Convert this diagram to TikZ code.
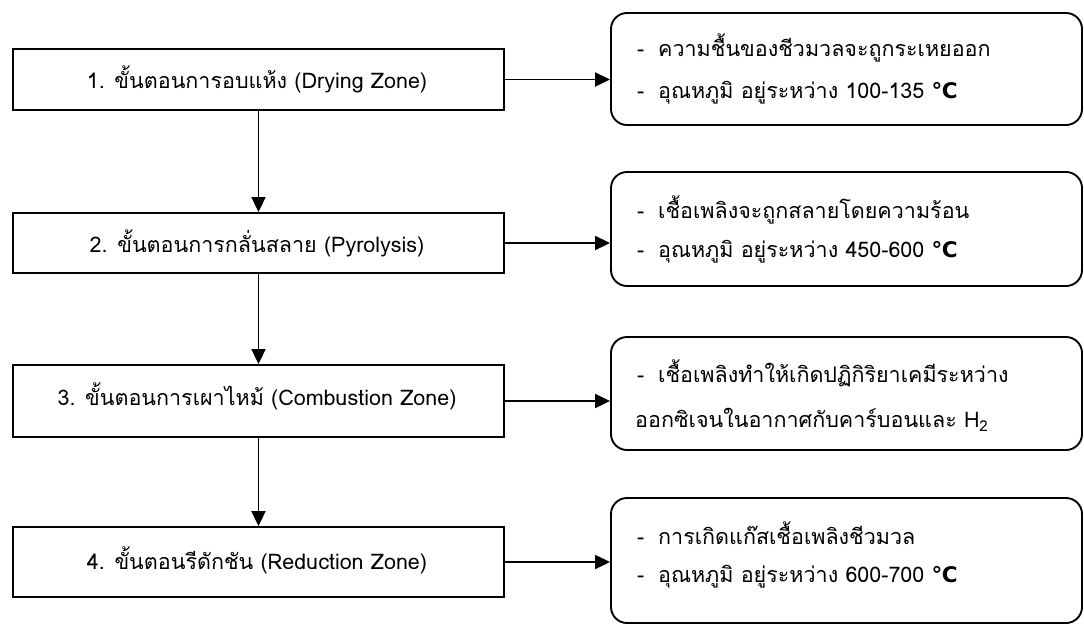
\documentclass[tikz,border=0pt]{standalone}
\usepackage{fontspec}
\setmainfont{Loma}[Script=Thai]
\newfontfamily\symfont{DejaVu Sans}
\usetikzlibrary{arrows.meta}
\begin{document}
\begin{tikzpicture}[x=1pt,y=-1pt,
  stepbox/.style={draw, line width=1.9pt, minimum width=491pt, inner sep=0pt},
  notebox/.style={draw, line width=1.9pt, rounded corners=16pt, minimum width=471pt, inner sep=0pt},
  lbl/.style={font=\fontsize{21.5}{24}\selectfont, inner sep=0pt},
  rlbl/.style={font=\fontsize{21.5}{24}\selectfont, inner sep=0pt, anchor=west},
  arr/.style={line width=1.9pt, -{Triangle[length=15pt,width=14pt]}}]
\useasboundingbox (0,0) rectangle (1084,625);
\fill[white] (0,0) rectangle (1084,625);
% left boxes
\node[stepbox, minimum height=61pt] (b1) at (258.5,79.5) {};
\node[stepbox, minimum height=60pt] (b2) at (258.5,243) {};
\node[stepbox, minimum height=72pt] (b3) at (258.5,401) {};
\node[stepbox, minimum height=70pt] (b4) at (258.5,562) {};
\node[lbl] (t1) at (257,79) {1. ขั้นตอนการอบแห้ง (Drying Zone)};
\node[lbl] (t2) at (257,243) {2. ขั้นตอนการกลั่นสลาย (Pyrolysis)};
\node[lbl] (t3) at (257,396) {3. ขั้นตอนการเผาไหม้ (Combustion Zone)};
\node[lbl] (t4) at (257,560) {4. ขั้นตอนรีดักชัน (Reduction Zone)};
% right boxes
\node[notebox, minimum height=112pt] (r1) at (846.5,69) {};
\node[notebox, minimum height=114pt] (r2) at (846.5,229) {};
\node[notebox, minimum height=113pt] (r3) at (846.5,393.5) {};
\node[notebox, minimum height=125pt] (r4) at (846.5,560.5) {};
\node[rlbl] (r1a) at (637,48) {\makebox[21pt][l]{-}ความชื้นของชีวมวลจะถูกระเหยออก};
\node[rlbl] (r1b) at (637,93) {\makebox[21pt][l]{-}อุณหภูมิ อยู่ระหว่าง 100-135 {\symfont\bfseries ℃}};
\node[rlbl] (r2a) at (637,210) {\makebox[21pt][l]{-}เชื้อเพลิงจะถูกสลายโดยความร้อน};
\node[rlbl] (r2b) at (637,252) {\makebox[21pt][l]{-}อุณหภูมิ อยู่ระหว่าง 450-600 {\symfont\bfseries ℃}};
\node[rlbl] (r3a) at (637,373) {\makebox[21pt][l]{-}เชื้อเพลิงทำให้เกิดปฏิกิริยาเคมีระหว่าง};
\node[rlbl] (r3b) at (635,420) {ออกซิเจนในอากาศกับคาร์บอนและ H\textsubscript{2}};
\node[rlbl] (r4a) at (637,533) {\makebox[21pt][l]{-}การเกิดแก๊สเชื้อเพลิงชีวมวล};
\node[rlbl] (r4b) at (637,577) {\makebox[21pt][l]{-}อุณหภูมิ อยู่ระหว่าง 600-700 {\symfont\bfseries ℃}};
% connectors
\draw[arr] (b1.south) -- (b2.north);
\draw[arr] (b2.south) -- (b3.north);
\draw[arr] (b3.south) -- (b4.north);
\draw[arr] (b1.east) -- (b1.east -| r1.west);
\draw[arr] (b2.east) -- (b2.east -| r2.west);
\draw[arr] (b3.east) -- (b3.east -| r3.west);
\draw[arr] (b4.east) -- (b4.east -| r4.west);
\end{tikzpicture}
\end{document}
